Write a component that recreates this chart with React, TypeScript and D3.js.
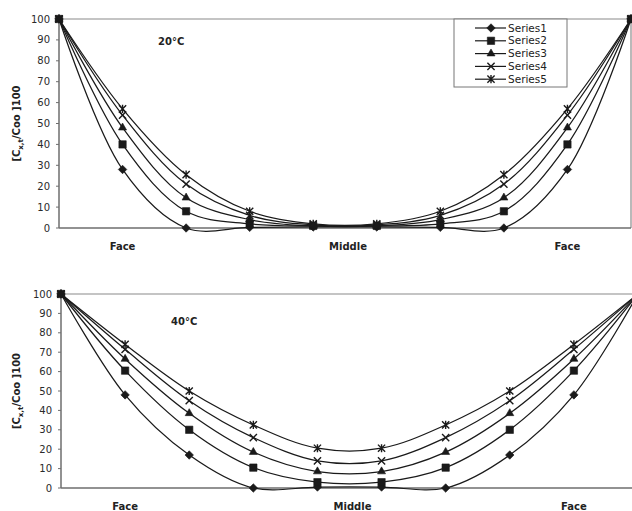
import React from "react";
import * as d3 from "d3";

// Category positions along the sample (face → middle → face)
const categories = ["", "Face", "", "", "", "", "", "", "Face", ""];
const middleLabel = "Middle";
const seriesNames = ["Series1", "Series2", "Series3", "Series4", "Series5"];
const yTicks = [0, 10, 20, 30, 40, 50, 60, 70, 80, 90, 100];

// 20 °C profiles
const t20Series1 = [100, 28, 0, 0.3, 0.5, 0.5, 0.3, 0, 28, 100];
const t20Series2 = [100, 40, 8, 2, 1, 1, 2, 8, 40, 100];
const t20Series3 = [100, 48, 14.5, 4, 1, 1, 4, 14.5, 48, 100];
const t20Series4 = [100, 54, 21, 6, 1.5, 1.5, 6, 21, 54, 100];
const t20Series5 = [100, 57, 25.5, 8, 2, 2, 8, 25.5, 57, 100];

// 40 °C profiles
const t40Series1 = [100, 48, 17, 0, 0.5, 0.5, 0, 17, 48, 100];
const t40Series2 = [100, 60.5, 30, 10.5, 3, 3, 10.5, 30, 60.5, 100];
const t40Series3 = [100, 66.5, 38.5, 18.5, 8.5, 8.5, 18.5, 38.5, 66.5, 100];
const t40Series4 = [100, 71.5, 45, 26, 14, 14, 26, 45, 71.5, 100];
const t40Series5 = [100, 74, 50, 32.5, 20.5, 20.5, 32.5, 50, 74, 100];

const FONT = "'DejaVu Sans', 'Liberation Sans', Arial, sans-serif";
const INK = "#1a1a1a";

type Panel = {
  title: string;
  series: number[][];
  left: number;
  right: number;
  top: number;
  bottom: number;
  titleX: number;
  titleY: number;
  labelY: number;
  legend: boolean;
};

const panels: Panel[] = [
  {
    title: "20°C",
    series: [t20Series1, t20Series2, t20Series3, t20Series4, t20Series5],
    left: 59, right: 631, top: 19, bottom: 228,
    titleX: 158, titleY: 45, labelY: 250, legend: true,
  },
  {
    title: "40°C",
    series: [t40Series1, t40Series2, t40Series3, t40Series4, t40Series5],
    left: 61, right: 638, top: 294, bottom: 488,
    titleX: 171, titleY: 325, labelY: 510, legend: false,
  },
];

// Marker shapes: diamond, square, triangle, cross, star
function markerPath(i: number): string {
  if (i === 0) return d3.symbol(d3.symbolDiamond2, 46)()!;
  if (i === 1) return d3.symbol(d3.symbolSquare, 54)()!;
  if (i === 2) return d3.symbol(d3.symbolTriangle, 28)()!;
  const r = 3.6;
  const p = d3.path();
  p.moveTo(-r, -r); p.lineTo(r, r);
  p.moveTo(-r, r); p.lineTo(r, -r);
  if (i === 4) {
    p.moveTo(0, -r - 0.5); p.lineTo(0, r + 0.5);
  }
  return p.toString();
}

function Marker({ i, x, y }: { i: number; x: number; y: number }) {
  const stroked = i >= 3;
  return (
    <path
      d={markerPath(i)}
      transform={`translate(${x},${y})`}
      fill={stroked ? "none" : INK}
      stroke={INK}
      strokeWidth={stroked ? 1.4 : 0.6}
    />
  );
}

function ChartPanel({ p }: { p: Panel }) {
  const x = d3
    .scalePoint<number>()
    .domain(d3.range(categories.length))
    .range([p.left, p.right]);
  const y = d3.scaleLinear().domain([0, 100]).range([p.bottom, p.top]);
  const line = d3
    .line<number>()
    .x((_, i) => x(i)!)
    .y((d) => y(d))
    .curve(d3.curveCatmullRom.alpha(0.5));
  const cy = (p.top + p.bottom) / 2;
  const midX = (x(4)! + x(5)!) / 2 + 3;

  return (
    <g>
      {/* plot frame */}
      <line x1={p.left} x2={p.right} y1={p.top} y2={p.top} stroke="#8a8a8a" strokeWidth={1.2} />
      <line x1={p.right} x2={p.right} y1={p.top} y2={p.bottom} stroke="#8a8a8a" strokeWidth={1.2} />
      <line x1={p.left} x2={p.right} y1={p.bottom} y2={p.bottom} stroke="#6e6e6e" strokeWidth={1.5} />
      <line x1={p.left} x2={p.left} y1={p.top} y2={p.bottom} stroke="#6e6e6e" strokeWidth={1.5} />

      {/* value axis */}
      {yTicks.map((t) => (
        <g key={t}>
          <line x1={p.left - 3} x2={p.left} y1={y(t)} y2={y(t)} stroke="#6e6e6e" strokeWidth={1} />
          <text
            x={p.left - 9}
            y={y(t)}
            dy="0.35em"
            textAnchor="end"
            fontFamily={FONT}
            fontSize={10}
            fill="#2a2a2a"
          >
            {t}
          </text>
        </g>
      ))}

      {/* value axis title */}
      <text
        transform={`translate(20,${cy}) rotate(-90)`}
        textAnchor="middle"
        fontFamily={FONT}
        fontSize={10}
        fontWeight="bold"
        fill="#222"
      >
        [C
        <tspan fontSize={7} dy={3}>x,t</tspan>
        <tspan dy={-3}>/Coo ]100</tspan>
      </text>

      {/* category labels */}
      {categories.map((c, i) =>
        c ? (
          <text
            key={i}
            x={x(i)}
            y={p.labelY}
            textAnchor="middle"
            fontFamily={FONT}
            fontSize={10}
            fontWeight="bold"
            fill="#222"
          >
            {c}
          </text>
        ) : null
      )}
      <text
        x={midX}
        y={p.labelY}
        textAnchor="middle"
        fontFamily={FONT}
        fontSize={10}
        fontWeight="bold"
        fill="#222"
      >
        {middleLabel}
      </text>

      {/* temperature tag */}
      <text x={p.titleX} y={p.titleY} fontFamily={FONT} fontSize={10} fontWeight="bold" fill="#222">
        {p.title}
      </text>

      {/* smoothed profiles */}
      {p.series.map((s, si) => (
        <path key={si} d={line(s)!} fill="none" stroke={INK} strokeWidth={1.25} />
      ))}
      {p.series.map((s, si) =>
        s.map((v, i) => <Marker key={`${si}-${i}`} i={si} x={x(i)!} y={y(v)} />)
      )}

      {p.legend && (
        <g>
          <rect x={454} y={p.top} width={113} height={68} fill="#fff" stroke="#777" strokeWidth={1} />
          {seriesNames.map((n, i) => {
            const ly = p.top + 9 + i * 12.8;
            return (
              <g key={n}>
                <line x1={475} x2={506} y1={ly} y2={ly} stroke={INK} strokeWidth={1.2} />
                <Marker i={i} x={491} y={ly} />
                <text x={508} y={ly} dy="0.35em" fontFamily={FONT} fontSize={10.5} fill="#222">
                  {n}
                </text>
              </g>
            );
          })}
        </g>
      )}
    </g>
  );
}

export default function App() {
  return (
    <svg
      width={632}
      height={511}
      style={{ position: "absolute", left: 0, top: 0, background: "#fff" }}
    >
      {panels.map((p, i) => (
        <ChartPanel key={i} p={p} />
      ))}
    </svg>
  );
}
